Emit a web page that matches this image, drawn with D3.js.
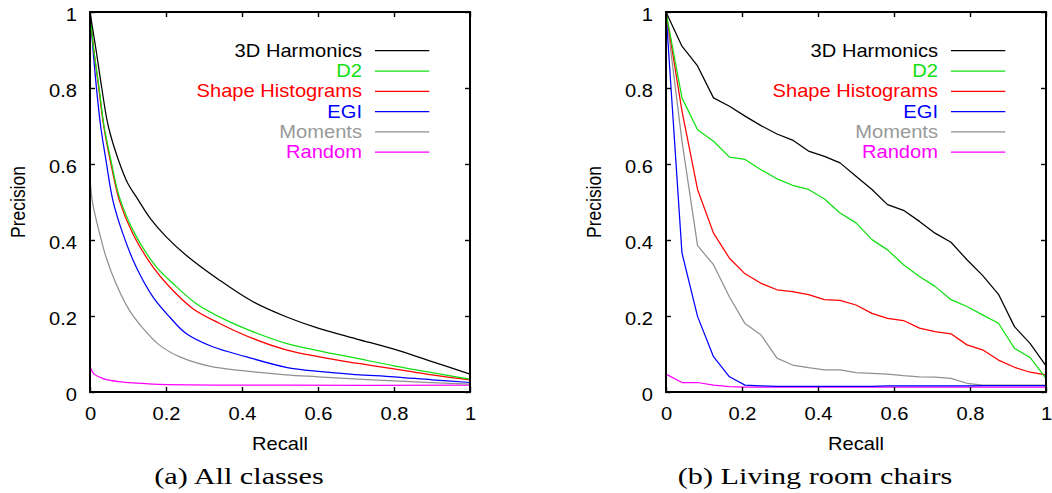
<!DOCTYPE html>
<html>
<head>
<meta charset="utf-8">
<script src="https://cdn.jsdelivr.net/npm/d3@7"></script>
<style>
  html, body { margin: 0; padding: 0; background: #fff; }
  svg { display: block; }
</style>
</head>
<body>
<svg id="chart" width="1052" height="493"></svg>
<script>
// ---- Data -------------------------------------------------------------
const seriesNames = ["3D Harmonics", "D2", "Shape Histograms", "EGI", "Moments", "Random"];
const seriesColors = ["#000000", "#11e011", "#ff0000", "#0000ff", "#909090", "#ff00ff"];
const legendTextColors = ["#000000", "#11dd11", "#ff0000", "#0000ff", "#999999", "#ff00ff"];

const axisTicks = [0, 0.2, 0.4, 0.6, 0.8, 1];
const axisTickLabels = ["0", "0.2", "0.4", "0.6", "0.8", "1"];

const captions = ["(a) All classes", "(b) Living room chairs"];

// (a) All classes: [recall, precision] pairs
const allHarmonics = [[0,1],[0.008,0.95],[0.016,0.9],[0.031,0.8],[0.048,0.7],[0.075,0.61],[0.1,0.548],[0.121,0.515],[0.16,0.455],[0.2,0.409],[0.253,0.36],[0.34,0.295],[0.428,0.238],[0.516,0.198],[0.6,0.168],[0.7,0.14],[0.8,0.113],[0.9,0.08],[1,0.047]];
const allD2 = [[0,1],[0.01,0.9],[0.024,0.8],[0.037,0.7],[0.055,0.61],[0.077,0.514],[0.117,0.418],[0.174,0.33],[0.218,0.286],[0.279,0.233],[0.358,0.189],[0.428,0.159],[0.516,0.128],[0.6,0.109],[0.7,0.089],[0.8,0.069],[0.9,0.051],[1,0.034]];
const allShapeHist = [[0,1],[0.01,0.9],[0.023,0.8],[0.036,0.7],[0.053,0.61],[0.077,0.505],[0.112,0.418],[0.165,0.33],[0.209,0.277],[0.27,0.22],[0.34,0.181],[0.428,0.141],[0.516,0.111],[0.6,0.093],[0.7,0.076],[0.8,0.061],[0.9,0.045],[1,0.032]];
const allEGI = [[0,1],[0.008,0.9],[0.017,0.8],[0.028,0.7],[0.042,0.61],[0.06,0.505],[0.086,0.418],[0.121,0.33],[0.165,0.251],[0.209,0.198],[0.253,0.154],[0.323,0.119],[0.41,0.093],[0.516,0.065],[0.6,0.054],[0.7,0.046],[0.8,0.04],[0.9,0.032],[1,0.025]];
const allMoments = [[0,0.562],[0.007,0.497],[0.025,0.418],[0.042,0.356],[0.068,0.286],[0.103,0.216],[0.139,0.168],[0.182,0.124],[0.235,0.093],[0.314,0.068],[0.402,0.056],[0.516,0.045],[0.6,0.04],[0.8,0.029],[1,0.021]];
const allRandom = [[0,0.068],[0.009,0.049],[0.033,0.036],[0.077,0.027],[0.165,0.021],[0.516,0.018],[1,0.018]];

// (b) Living room chairs: precision at each recall step
const chairRecall = [0,0.042,0.083,0.125,0.167,0.208,0.25,0.292,0.333,0.375,0.417,0.458,0.5,0.542,0.583,0.625,0.667,0.708,0.75,0.792,0.833,0.875,0.917,0.958,1];
const chairHarmonics = [1,0.91,0.858,0.774,0.752,0.726,0.701,0.679,0.663,0.634,0.62,0.603,0.568,0.533,0.493,0.478,0.449,0.418,0.394,0.348,0.307,0.257,0.172,0.128,0.069];
const chairD2 = [1,0.774,0.69,0.66,0.618,0.612,0.585,0.561,0.544,0.533,0.508,0.471,0.445,0.401,0.374,0.335,0.304,0.278,0.243,0.225,0.203,0.181,0.115,0.091,0.036];
const chairShapeHist = [1,0.74,0.533,0.418,0.352,0.311,0.286,0.269,0.264,0.256,0.243,0.241,0.229,0.207,0.194,0.188,0.168,0.159,0.153,0.124,0.111,0.084,0.065,0.052,0.045];
const chairEGI = [1,0.366,0.199,0.093,0.04,0.018,0.016,0.015,0.015,0.015,0.015,0.015,0.015,0.015,0.016,0.016,0.016,0.016,0.016,0.016,0.017,0.017,0.017,0.017,0.017];
const chairMoments = [1,0.66,0.385,0.335,0.25,0.18,0.15,0.089,0.071,0.064,0.058,0.058,0.051,0.049,0.047,0.043,0.04,0.039,0.036,0.023,0.018,0.018,0.018,0.018,0.018];
const chairRandom = [0.047,0.025,0.025,0.018,0.014,0.013,0.013,0.013,0.013,0.013,0.013,0.013,0.013,0.013,0.013,0.013,0.013,0.013,0.013,0.013,0.013,0.013,0.013,0.013,0.013];

// ---- Layout -----------------------------------------------------------
const svg = d3.select("#chart");
const SANS = "'Liberation Sans', Arial, Helvetica, sans-serif";
const SERIF = "'Liberation Serif', 'Times New Roman', serif";
const FS = 17.5;       // label font size
const SX = 1.15;       // horizontal glyph stretch

const plotW = 380, plotH = 380, plotTop = 12;

const panels = [
  {
    left: 90,
    caption: captions[0],
    series: [allHarmonics, allD2, allShapeHist, allEGI, allMoments, allRandom],
    curve: d3.curveCatmullRom.alpha(0.5)
  },
  {
    left: 666,
    caption: captions[1],
    series: [chairHarmonics, chairD2, chairShapeHist, chairEGI, chairMoments, chairRandom]
      .map(vals => vals.map((p, i) => [chairRecall[i], p])),
    curve: d3.curveLinear
  }
];

function stretchedText(parent, x, y, txt, opts = {}) {
  const rot = opts.rotate ? ` rotate(${opts.rotate})` : "";
  return parent.append("text")
    .attr("transform", `translate(${x},${y}) scale(${opts.sx || SX},1)${rot}`)
    .attr("text-anchor", opts.anchor || "middle")
    .attr("font-family", opts.family || SANS)
    .attr("font-size", opts.size || FS)
    .attr("fill", opts.fill || "#000")
    .text(txt);
}

panels.forEach(panel => {
  const g = svg.append("g").attr("transform", `translate(${panel.left},${plotTop})`);
  const x = d3.scaleLinear().domain([0, 1]).range([0, plotW]);
  const y = d3.scaleLinear().domain([0, 1]).range([plotH, 0]);
  const labelOf = v => axisTickLabels[axisTicks.indexOf(v)];

  // Curves
  const line = d3.line().x(d => x(d[0])).y(d => y(d[1])).curve(panel.curve);
  // draw in reverse so the black curve sits on top
  panel.series.map((s, i) => ({ s, i })).reverse().forEach(({ s, i }) => {
    g.append("path")
      .datum(s)
      .attr("fill", "none")
      .attr("stroke", seriesColors[i])
      .attr("stroke-width", 1.25)
      .attr("stroke-linejoin", "round")
      .attr("d", line);
  });

  // Axes with inward ticks on all four sides
  const styleAxis = sel => {
    sel.select(".domain").remove();
    sel.selectAll(".tick line").attr("stroke", "#000").attr("stroke-width", 1.4);
  };
  const bottom = g.append("g").attr("transform", `translate(0,${plotH})`)
    .call(d3.axisBottom(x).tickValues(axisTicks).tickSize(-5).tickPadding(15.5).tickFormat(labelOf))
    .call(styleAxis);
  bottom.selectAll(".tick text")
    .attr("font-family", SANS).attr("font-size", FS).attr("fill", "#000")
    .attr("transform", `scale(${SX},1)`);

  const left = g.append("g")
    .call(d3.axisLeft(y).tickValues(axisTicks).tickSize(-5).tickPadding(13).tickFormat(labelOf))
    .call(styleAxis);
  left.selectAll(".tick text")
    .attr("font-family", SANS).attr("font-size", FS).attr("fill", "#000")
    .attr("x", -13 / SX).attr("dy", "0.48em")
    .attr("transform", `scale(${SX},1)`);

  g.append("g")
    .call(d3.axisTop(x).tickValues(axisTicks).tickSize(-5).tickFormat(""))
    .call(styleAxis);
  g.append("g").attr("transform", `translate(${plotW},0)`)
    .call(d3.axisRight(y).tickValues(axisTicks).tickSize(-5).tickFormat(""))
    .call(styleAxis);

  // Frame
  g.append("rect")
    .attr("x", 0).attr("y", 0).attr("width", plotW).attr("height", plotH)
    .attr("fill", "none").attr("stroke", "#000").attr("stroke-width", 2);

  // Legend
  seriesNames.forEach((name, i) => {
    const ly = 38.7 + i * 20.3;
    stretchedText(g, 272, ly + 6, name, { anchor: "end", fill: legendTextColors[i] });
    g.append("line")
      .attr("x1", 285).attr("x2", 339.3)
      .attr("y1", ly).attr("y2", ly)
      .attr("stroke", seriesColors[i]).attr("stroke-width", 1.25);
  });

  // Axis titles
  stretchedText(g, plotW / 2, 438, "Recall");
  stretchedText(g, -65, plotH / 2, "Precision", { rotate: -90 });

  // Caption
  stretchedText(g, 149, 472, panel.caption, { family: SERIF, size: 24, sx: 1.26 });
});
</script>
</body>
</html>
